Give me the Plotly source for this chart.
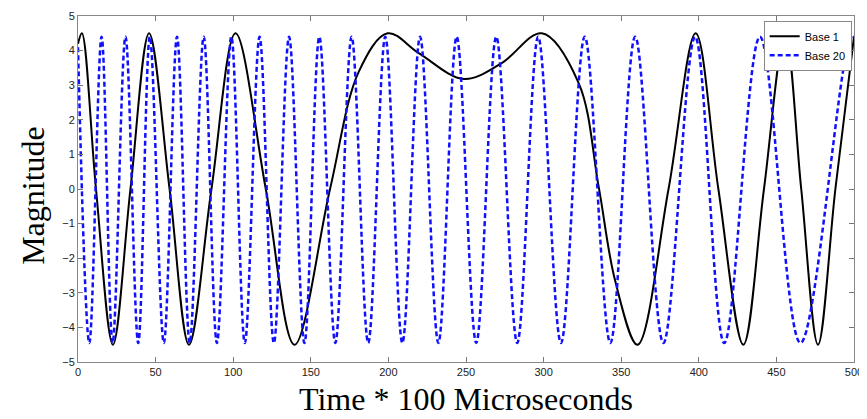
import plotly.graph_objects as go

# Base 1 (black, solid): read at extrema and a few shape points
base1_x = [0, 2.5, 11.6, 22.5, 33.8, 45.8, 59, 71.5, 86, 101.5, 121, 139.5,
           162.4, 181, 199.5, 219.8, 248.7, 273, 298.9, 322.6, 335.5, 346,
           360.5, 380.5, 398, 412.6, 428.7, 442, 455.6, 466, 476.8, 488, 500]
base1_y = [4.2, 4.5, 0, -4.5, 0, 4.5, 0, -4.5, 0, 4.5, 0, -4.5,
           0, 3.4, 4.5, 3.92, 3.18, 3.64, 4.5, 3.06, 0.06, -2.63,
           -4.5, 0, 4.5, 0, -4.5, 0, 4.5, 0, -4.5, 0, 4.4]

# Base 20 (blue, dashed): peaks and troughs
base20_x = [0, 7.3, 15.2, 22.3, 30.6, 38.8, 46.3, 55.3, 63.8, 72, 81, 89.5,
            98.8, 107.5, 117, 126.2, 136, 145.9, 155.5, 165.8, 176.3, 187,
            198, 209, 220.4, 232.2, 244, 256.6, 269.5, 283, 296.5, 311.2,
            326.5, 343, 359, 377.2, 397.6, 416.4, 439.4, 465.5, 498, 500]
base20_y = [4.1, -4.45, 4.4, -4.45, 4.4, -4.45, 4.4, -4.45, 4.4, -4.45, 4.4, -4.45,
            4.4, -4.45, 4.4, -4.45, 4.4, -4.45, 4.4, -4.45, 4.4, -4.45,
            4.4, -4.45, 4.4, -4.45, 4.4, -4.45, 4.4, -4.45, 4.4, -4.45,
            4.4, -4.45, 4.4, -4.45, 4.4, -4.45, 4.4, -4.45, 4.4, 4.38]

x_ticks = list(range(0, 501, 50))
y_ticks = list(range(-5, 6))

fig = go.Figure()
fig.add_trace(go.Scatter(x=base1_x, y=base1_y, mode="lines", name="Base 1",
                         line=dict(color="black", width=2, shape="spline", smoothing=1)))
fig.add_trace(go.Scatter(x=base20_x, y=base20_y, mode="lines", name="Base 20",
                         line=dict(color="#1010ff", width=2.5, dash="5px,3px",
                                   shape="spline", smoothing=1)))

axis_common = dict(showgrid=False, zeroline=False, showline=True, mirror="ticks",
                   linecolor="#888", linewidth=1, ticks="inside", ticklen=5,
                   tickcolor="#777", automargin=False,
                   tickfont=dict(family="Liberation Sans", size=11, color="#222"))

title_font = dict(family="Liberation Serif", size=32, color="black")

# page body adds an 8px margin, so the figure is 8px smaller than the window
fig.update_layout(
    width=859, height=411,
    margin=dict(l=70, r=13, t=8, b=57),
    paper_bgcolor="white", plot_bgcolor="white",
    xaxis=dict(range=[0, 500], tickvals=x_ticks, **axis_common),
    yaxis=dict(range=[-5, 5], tickvals=y_ticks, **axis_common),
    legend=dict(x=0.997, y=0.986, xanchor="right", yanchor="top",
                bgcolor="white", bordercolor="#888", borderwidth=1,
                font=dict(family="Liberation Sans", size=11, color="black"),
                tracegroupgap=0, itemwidth=30),
    showlegend=True,
)

# axis titles as annotations so the plot area stays put
fig.add_annotation(text="Time * 100 Microseconds", xref="paper", yref="paper",
                   x=0.5, y=-0.108, xanchor="center", yanchor="middle",
                   showarrow=False, font=title_font)
fig.add_annotation(text="Magnitude", xref="paper", yref="paper",
                   x=-0.058, y=0.483, xanchor="center", yanchor="middle",
                   textangle=-90, showarrow=False, font=title_font)

fig.write_html("out.html")
